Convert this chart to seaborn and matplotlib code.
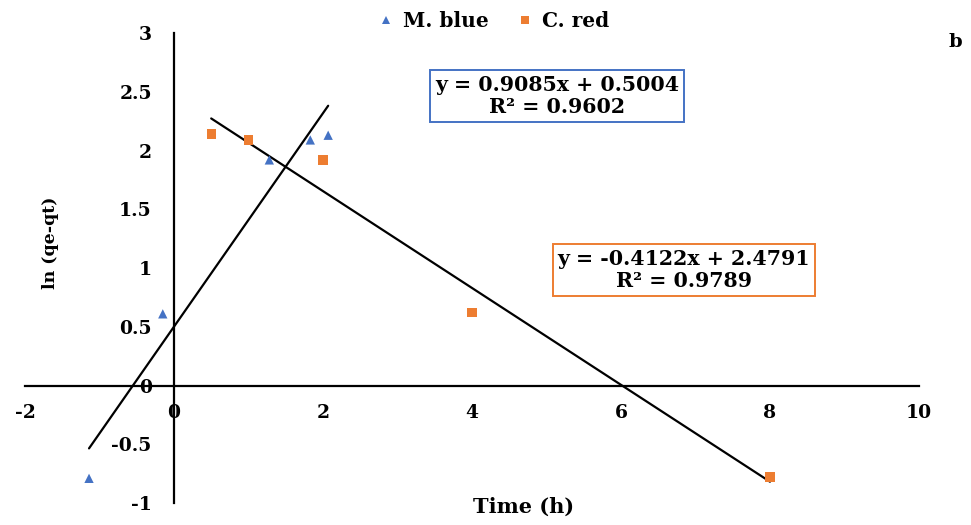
import numpy as np
import pandas as pd
import matplotlib.pyplot as plt
import seaborn as sns

# data
mb_time = [-1.14, -0.15, 1.28, 1.83, 2.07]
mb_lnq = [-0.79, 0.61, 1.92, 2.09, 2.13]
cr_time = [0.5, 1.0, 2.0, 4.0, 8.0]
cr_lnq = [2.14, 2.09, 1.92, 0.62, -0.78]

# trendline coefficients (slope, intercept) as printed on the chart
mb_fit = (0.9085, 0.5004)
cr_fit = (-0.4122, 2.4791)
mb_r2 = 0.9602
cr_r2 = 0.9789

BLUE = '#4472C4'
ORANGE = '#ED7D31'

sns.set_style('white')
plt.rcParams['font.family'] = ['DejaVu Serif', 'Liberation Serif']
plt.rcParams['font.weight'] = 'bold'
plt.rcParams['axes.unicode_minus'] = False
plt.rcParams['text.color'] = 'black'

fig = plt.figure(figsize=(9.71, 5.25), dpi=100)
ax = fig.add_axes([0.0257, 0.0419, 0.9207, 0.8952])

df = pd.concat([
    pd.DataFrame({'t': mb_time, 'y': mb_lnq, 'dye': 'M. blue'}),
    pd.DataFrame({'t': cr_time, 'y': cr_lnq, 'dye': 'C. red'}),
])

sns.scatterplot(data=df, x='t', y='y', hue='dye', style='dye',
                palette={'M. blue': BLUE, 'C. red': ORANGE},
                markers={'M. blue': '^', 'C. red': 's'},
                s=45, linewidth=0, ax=ax, zorder=3)

# linear trendlines over each series' x span
for t, (m, b) in [(mb_time, mb_fit), (cr_time, cr_fit)]:
    xs = np.array([min(t), max(t)])
    sns.lineplot(x=xs, y=m * xs + b, color='black', lw=1.6, ax=ax, zorder=2)

ax.set_xlim(-2, 10)
ax.set_ylim(-1, 3)
ax.set_xticks(np.arange(-2, 11, 2))
ax.set_yticks(np.arange(-1, 3.01, 0.5))
ax.set_yticklabels(['%g' % v for v in np.arange(-1, 3.01, 0.5)])

for s in ['top', 'right']:
    ax.spines[s].set_visible(False)
ax.spines['left'].set_position(('data', 0))
ax.spines['bottom'].set_position(('data', 0))
for s in ['left', 'bottom']:
    ax.spines[s].set_linewidth(1.6)
    ax.spines[s].set_color('black')
ax.tick_params(axis='both', direction='out', length=5, width=1.6,
               labelsize=13.5, colors='black')
ax.tick_params(axis='x', pad=8)
ax.tick_params(axis='y', pad=11)
ax.set_xlabel('')
ax.set_ylabel('')

fig.text(0.5397, 0.0343, 'Time (h)', ha='center', va='center', fontsize=15, fontweight='bold')
fig.text(0.0515, 0.537, 'ln (qe-qt)', ha='center', va='center', rotation=90,
         fontsize=12.5, fontweight='bold')
fig.text(0.9835, 0.92, 'b', ha='center', va='center', fontsize=14, fontweight='bold')

ax.legend(loc='center', bbox_to_anchor=(0.507, 0.96), bbox_transform=fig.transFigure,
          ncol=2, frameon=False, fontsize=14.5, handlelength=1.0, handletextpad=0.35,
          columnspacing=1.3, markerscale=0.8)

ax.text(0.5736, 0.8171, 'y = %.4fx + %.4f\nR² = %.4f' % (mb_fit[0], mb_fit[1], mb_r2),
        transform=fig.transFigure, ha='center', va='center', fontsize=14.8,
        fontweight='bold', linespacing=1.15,
        bbox=dict(boxstyle='square,pad=0.25', fc='white', ec=BLUE, lw=1.4))
ax.text(0.7044, 0.4857, 'y = %.4fx + %.4f\nR² = %.4f' % (cr_fit[0], cr_fit[1], cr_r2),
        transform=fig.transFigure, ha='center', va='center', fontsize=14.8,
        fontweight='bold', linespacing=1.15,
        bbox=dict(boxstyle='square,pad=0.25', fc='white', ec=ORANGE, lw=1.4))

fig.savefig('out.png', dpi=100)
